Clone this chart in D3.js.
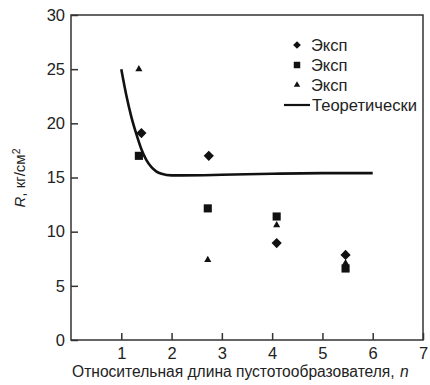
<!DOCTYPE html>
<html><head><meta charset="utf-8">
<script src="https://cdn.jsdelivr.net/npm/d3@7"></script>
<style>body{margin:0;background:#fff}</style>
</head><body>
<svg id="c" width="430" height="385"></svg>
<script>
const xTicks = [1,2,3,4,5,6,7];
const yTicks = [0,5,10,15,20,25,30];
const seriesNames = ["Эксп","Эксп","Эксп","Теоретически"];
const diamondX = [1.40, 2.74, 4.09, 5.46];
const diamondY = [19.1, 17.0, 8.95, 7.85];
const squareX = [1.35, 2.72, 4.09, 5.46];
const squareY = [17.0, 12.15, 11.4, 6.6];
const triangleX = [1.35, 2.72, 4.09, 5.46];
const triangleY = [25.0, 7.4, 10.6, 7.1];
const theoryX = [1.0, 1.1, 1.2, 1.3, 1.4, 1.5, 1.6, 1.7, 1.8, 2.0, 2.2, 3.0, 4.0, 5.0, 6.0];
const theoryY = [25.0, 22.6, 20.6, 19.0, 17.6, 16.6, 15.95, 15.55, 15.35, 15.2, 15.2, 15.25, 15.35, 15.4, 15.4];

const svg = d3.select("#c");
const font = "'Liberation Sans', Arial, sans-serif";
const L = 71, R = 423, T = 15, B = 340;
const x = d3.scaleLinear().domain([0,7]).range([L,R]);
const y = d3.scaleLinear().domain([0,30]).range([B,T]);

// frame
svg.append("rect").attr("x",L).attr("y",T).attr("width",R-L).attr("height",B-T)
  .attr("fill","none").attr("stroke","#333").attr("stroke-width",1.5);

const xAxis = svg.append("g").attr("transform",`translate(0,${B})`)
  .call(d3.axisBottom(x).tickValues(xTicks).tickFormat(d3.format("d")).tickSizeInner(-7).tickSizeOuter(0).tickPadding(7));
const yAxis = svg.append("g").attr("transform",`translate(${L},0)`)
  .call(d3.axisLeft(y).tickValues(yTicks).tickFormat(d3.format("d")).tickSizeInner(-7).tickSizeOuter(0).tickPadding(6));
[xAxis,yAxis].forEach(a=>{
  a.select(".domain").remove();
  a.selectAll(".tick line").attr("stroke","#333").attr("stroke-width",1.5);
  a.selectAll(".tick text").attr("font-family",font).attr("font-size",16.5).attr("fill","#222");
});

// theory line
const line = d3.line().x((d,i)=>x(theoryX[i])).y((d,i)=>y(theoryY[i])).curve(d3.curveMonotoneX);
svg.append("path").datum(theoryY).attr("d",line).attr("fill","none")
  .attr("stroke","#111").attr("stroke-width",2.6);

const g = svg.append("g");
g.selectAll(".dia").data(diamondY).join("path")
  .attr("d",d3.symbol(d3.symbolSquare,52)())
  .attr("transform",(d,i)=>`translate(${x(diamondX[i])},${y(d)}) rotate(45)`).attr("fill","#111");
g.selectAll(".sq").data(squareY).join("path")
  .attr("d",d3.symbol(d3.symbolSquare,66)())
  .attr("transform",(d,i)=>`translate(${x(squareX[i])},${y(d)})`).attr("fill","#111");
g.selectAll(".tri").data(triangleY).join("path")
  .attr("d",d3.symbol(d3.symbolTriangle,22)())
  .attr("transform",(d,i)=>`translate(${x(triangleX[i])},${y(d)})`).attr("fill","#111");

// legend
const lg = svg.append("g");
const lx = 297, ly0 = 45, dy = 20;
lg.append("path").attr("d",d3.symbol(d3.symbolSquare,30)()).attr("transform",`translate(${lx},${ly0}) rotate(45)`).attr("fill","#111");
lg.append("path").attr("d",d3.symbol(d3.symbolSquare,42)()).attr("transform",`translate(${lx},${ly0+dy})`).attr("fill","#111");
lg.append("path").attr("d",d3.symbol(d3.symbolTriangle,18)()).attr("transform",`translate(${lx},${ly0+2*dy})`).attr("fill","#111");
lg.append("line").attr("x1",284).attr("x2",310).attr("y1",ly0+3*dy).attr("y2",ly0+3*dy).attr("stroke","#111").attr("stroke-width",2.2);
seriesNames.forEach((s,i)=>{
  lg.append("text").attr("x",i<3?311:312).attr("y",ly0+i*dy).attr("dy","0.35em")
    .attr("font-family",font).attr("font-size",16.5).attr("fill","#222")
    .attr("textLength",i===3?105:null).attr("lengthAdjust","spacingAndGlyphs").text(s);
});

// axis titles
svg.append("text").attr("x",72).attr("y",377)
  .attr("font-family",font).attr("font-size",15.6).attr("fill","#222")
  .text("Относительная длина пустотообразователя,");
svg.append("text").attr("x",400).attr("y",377)
  .attr("font-family",font).attr("font-size",15.6).attr("font-style","italic").attr("fill","#222")
  .text("n");

const yt = svg.append("text").attr("transform","translate(25,178) rotate(-90)").attr("text-anchor","middle")
  .attr("font-family",font).attr("font-size",15).attr("fill","#222");
yt.append("tspan").attr("font-style","italic").text("R");
yt.append("tspan").text(", кг/см");
yt.append("tspan").attr("font-size",10.5).attr("dy","-5").text("2");
</script>
</body></html>
